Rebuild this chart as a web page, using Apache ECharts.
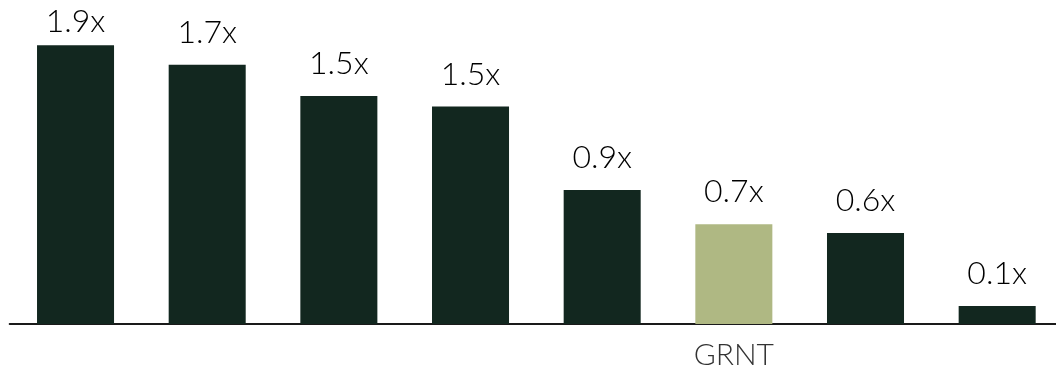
<!DOCTYPE html>
<html>
<head>
<meta charset="utf-8">
<style>
  html, body { margin: 0; padding: 0; background: #ffffff; overflow: hidden; }
  /* the plot runs a few pixels past the right edge so the baseline reaches the border */
  #chart { width: 1063px; height: 370px; }
</style>
<script src="https://cdn.jsdelivr.net/npm/echarts@6/dist/echarts.min.js"></script>
</head>
<body>
<div id="chart"></div>
<script>
// Peer multiples; only the highlighted company is named on the axis
const categories = ['', '', '', '', '', 'GRNT', '', ''];
const multiples = [1.87, 1.74, 1.53, 1.46, 0.90, 0.67, 0.61, 0.12];
const highlightName = 'GRNT';

const darkColor = '#12271f';
const highlightColor = '#afb883';
const labelGap = 16;

const chart = echarts.init(document.getElementById('chart'), null, { renderer: 'canvas' });

const tallest = Math.max(...multiples);

chart.setOption({
  animation: false,
  backgroundColor: '#ffffff',
  grid: { left: 9.7, right: 0, top: 26, bottom: 46, containLabel: false },
  xAxis: {
    type: 'category',
    data: categories,
    axisLine: { show: true, lineStyle: { color: '#1a1a1a', width: 2 } },
    axisTick: { show: false },
    axisLabel: {
      interval: 0,
      margin: 16,
      color: '#333333',
      fontFamily: 'Lato',
      fontWeight: 300,
      fontSize: 30
    }
  },
  yAxis: {
    type: 'value',
    min: 0,
    max: 2,
    show: false,
    splitLine: { show: false }
  },
  series: [{
    type: 'bar',
    barWidth: '58.5%',
    data: multiples.map((v, i) => ({
      value: v,
      itemStyle: { color: categories[i] === highlightName ? highlightColor : darkColor },
      // the tallest bar's label is pulled in so it stays inside the canvas
      label: { distance: v === tallest ? 8 : labelGap }
    })),
    label: {
      show: true,
      position: 'top',
      color: '#000000',
      fontFamily: 'Lato',
      fontWeight: 300,
      fontSize: 32,
      formatter: p => p.value.toFixed(1) + 'x'
    }
  }]
});
</script>
</body>
</html>
